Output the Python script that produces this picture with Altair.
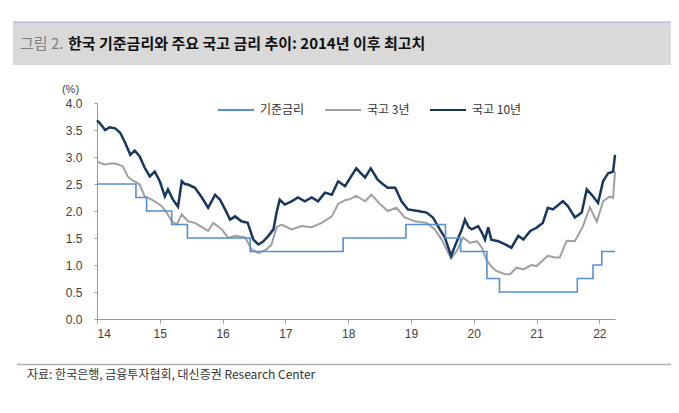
import altair as alt
import pandas as pd

# ---- data (decimal years) ----
base_t = [2014.00, 2014.62, 2014.79, 2015.19, 2015.44, 2016.44, 2017.92, 2018.92,
          2019.55, 2019.79, 2020.21, 2020.41, 2021.65, 2021.90, 2022.04, 2022.25]
base_v = [2.50, 2.25, 2.00, 1.75, 1.50, 1.25, 1.50, 1.75,
          1.50, 1.25, 0.75, 0.50, 0.75, 1.00, 1.25, 1.25]

y3_t = [2014.00, 2014.07, 2014.13, 2014.21, 2014.29, 2014.41, 2014.49, 2014.55, 2014.60, 2014.68,
        2014.76, 2014.84, 2014.92, 2015.03, 2015.11, 2015.19, 2015.27, 2015.35, 2015.45, 2015.56,
        2015.67, 2015.77, 2015.85, 2015.99, 2016.09, 2016.20, 2016.36, 2016.46, 2016.57, 2016.70,
        2016.78, 2016.86, 2016.94, 2017.10, 2017.26, 2017.42, 2017.58, 2017.74, 2017.84, 2017.95,
        2018.03, 2018.13, 2018.27, 2018.37, 2018.50, 2018.63, 2018.77, 2018.90, 2019.06, 2019.25,
        2019.38, 2019.49, 2019.64, 2019.73, 2019.83, 2019.94, 2020.05, 2020.13, 2020.20, 2020.28,
        2020.36, 2020.50, 2020.58, 2020.68, 2020.79, 2020.92, 2021.00, 2021.18, 2021.29, 2021.37,
        2021.48, 2021.61, 2021.74, 2021.85, 2021.96, 2022.06, 2022.17, 2022.22, 2022.25]
y3_v = [2.92, 2.88, 2.86, 2.88, 2.88, 2.83, 2.64, 2.58, 2.55, 2.49,
        2.27, 2.23, 2.18, 2.09, 1.97, 1.81, 1.75, 1.94, 1.81, 1.78,
        1.70, 1.63, 1.78, 1.66, 1.50, 1.54, 1.51, 1.29, 1.22, 1.29,
        1.38, 1.70, 1.75, 1.66, 1.72, 1.70, 1.78, 1.90, 2.13, 2.20,
        2.22, 2.28, 2.18, 2.30, 2.14, 2.00, 2.06, 1.88, 1.81, 1.78,
        1.66, 1.47, 1.12, 1.26, 1.51, 1.41, 1.44, 1.32, 1.10, 0.97,
        0.89, 0.83, 0.83, 0.95, 0.92, 1.00, 0.98, 1.17, 1.14, 1.14,
        1.45, 1.44, 1.72, 2.07, 1.80, 2.18, 2.27, 2.24, 2.73]

y10_t = [2014.00, 2014.05, 2014.13, 2014.20, 2014.29, 2014.37, 2014.45, 2014.53, 2014.60, 2014.68,
         2014.76, 2014.84, 2014.92, 2015.00, 2015.08, 2015.13, 2015.21, 2015.29, 2015.35, 2015.40,
         2015.45, 2015.56, 2015.67, 2015.77, 2015.88, 2015.96, 2016.04, 2016.12, 2016.20, 2016.30,
         2016.40, 2016.49, 2016.57, 2016.65, 2016.73, 2016.81, 2016.86, 2016.91, 2016.99, 2017.10,
         2017.20, 2017.31, 2017.42, 2017.52, 2017.63, 2017.74, 2017.84, 2017.95, 2018.03, 2018.13,
         2018.20, 2018.27, 2018.36, 2018.47, 2018.55, 2018.63, 2018.75, 2018.85, 2018.95, 2019.11,
         2019.25, 2019.35, 2019.46, 2019.54, 2019.64, 2019.70, 2019.81, 2019.86, 2019.92, 2019.97,
         2020.07, 2020.13, 2020.18, 2020.23, 2020.28, 2020.39, 2020.50, 2020.60, 2020.71, 2020.79,
         2020.90, 2021.00, 2021.10, 2021.18, 2021.26, 2021.42, 2021.50, 2021.61, 2021.72, 2021.80,
         2021.88, 2021.98, 2022.06, 2022.14, 2022.22, 2022.25]
y10_v = [3.68, 3.62, 3.50, 3.55, 3.53, 3.45, 3.26, 3.04, 3.12, 3.01,
         2.80, 2.64, 2.73, 2.55, 2.27, 2.40, 2.21, 2.08, 2.55, 2.50,
         2.49, 2.43, 2.25, 2.06, 2.30, 2.21, 2.03, 1.84, 1.90, 1.81,
         1.78, 1.47, 1.38, 1.44, 1.54, 1.66, 1.97, 2.21, 2.12, 2.18,
         2.25, 2.18, 2.25, 2.18, 2.34, 2.30, 2.55, 2.46, 2.61, 2.79,
         2.70, 2.62, 2.79, 2.58, 2.50, 2.43, 2.43, 2.18, 2.03, 2.00,
         1.97, 1.88, 1.66, 1.51, 1.17, 1.35, 1.66, 1.84, 1.70, 1.66,
         1.72, 1.60, 1.47, 1.70, 1.47, 1.44, 1.38, 1.32, 1.54, 1.47,
         1.63, 1.69, 1.78, 2.06, 2.03, 2.18, 2.09, 1.88, 1.97, 2.40,
         2.30, 2.15, 2.55, 2.70, 2.73, 3.04]

series_names = ["기준금리", "국고 3년", "국고 10년"]
series_colors = ["#558ed5", "#a0a0a0", "#17375e"]

title_prefix = "그림 2."
title_main = "한국 기준금리와 주요 국고 금리 추이: 2014년 이후 최고치"
source_text = "자료: 한국은행, 금융투자협회, 대신증권 Research Center"

x_ticks = [2014, 2015, 2016, 2017, 2018, 2019, 2020, 2021, 2022]
y_ticks = [0.0, 0.5, 1.0, 1.5, 2.0, 2.5, 3.0, 3.5, 4.0]

df_base = pd.DataFrame({"t": base_t, "v": base_v, "series": series_names[0]})
df_3 = pd.DataFrame({"t": y3_t, "v": y3_v, "series": series_names[1]})
df_10 = pd.DataFrame({"t": y10_t, "v": y10_v, "series": series_names[2]})
one = pd.DataFrame({"a": [0]})

KR = "Noto Sans CJK KR"
LAT = "Liberation Sans"

x_enc = alt.X("t:Q", scale=alt.Scale(domain=[2014, 2022.25], nice=False, zero=False),
              axis=alt.Axis(values=x_ticks, labelExpr="datum.value - 2000", grid=False,
                            domain=True, domainColor="#9a9a9a", tickColor="#9a9a9a",
                            tickSize=4, labelPadding=5, labelFont=LAT, labelFontSize=12,
                            labelColor="#404040", title=None))
y_enc = alt.Y("v:Q", scale=alt.Scale(domain=[0, 4], nice=False),
              axis=alt.Axis(values=y_ticks, format=".1f", grid=False, domainColor="#9a9a9a",
                            tickColor="#9a9a9a", tickSize=3, labelPadding=12, labelFont=LAT,
                            labelFontSize=12, labelColor="#404040", title="(%)",
                            titleAngle=0, titleX=-27, titleY=-14, titleAlign="center",
                            titleBaseline="middle",
                            titleFont=LAT, titleFontSize=11, titleFontWeight="normal",
                            titleColor="#404040"))
stroke_enc = alt.Stroke("series:N",
                        scale=alt.Scale(domain=series_names, range=series_colors),
                        sort=series_names,
                        legend=alt.Legend(title=None, orient="none", direction="horizontal",
                                          legendX=120, legendY=-12, symbolType="stroke",
                                          symbolSize=1296, symbolStrokeWidth=2,
                                          labelFont=KR, labelFontSize=12, labelColor="#333333",
                                          labelOffset=5, columnPadding=16))

line3 = alt.Chart(df_3).mark_line(strokeWidth=2).encode(x=x_enc, y=y_enc, stroke=stroke_enc)
line10 = alt.Chart(df_10).mark_line(strokeWidth=2.5).encode(x=x_enc, y=y_enc, stroke=stroke_enc)
lineb = alt.Chart(df_base).mark_line(strokeWidth=1.6, interpolate="step-after").encode(
    x=x_enc, y=y_enc, stroke=stroke_enc)

header_box = alt.Chart(one).mark_rect(color="#d9d9d9").encode(
    x=alt.value(-84), x2=alt.value(580), y=alt.value(-81), y2=alt.value(-38))
header_line = alt.Chart(one).mark_rule(color="#8eb4e3", strokeWidth=1.2).encode(
    x=alt.value(-84), x2=alt.value(580), y=alt.value(-81))
t_prefix = alt.Chart(one).mark_text(text=title_prefix, align="left", baseline="middle",
                                    font=KR, fontSize=15, color="#7f7f7f").encode(
    x=alt.value(-77), y=alt.value(-59))
t_main = alt.Chart(one).mark_text(text=title_main, align="left", baseline="middle",
                                  font=KR, fontSize=15, fontWeight="bold", color="#111111").encode(
    x=alt.value(-29), y=alt.value(-59))
footer_line = alt.Chart(one).mark_rule(color="#b0b0b0", strokeWidth=1.5).encode(
    x=alt.value(-80), x2=alt.value(580), y=alt.value(261.5))
t_source = alt.Chart(one).mark_text(text=source_text, align="left", baseline="middle",
                                    font=KR, fontSize=12, color="#333333").encode(
    x=alt.value(-70), y=alt.value(272))

chart = alt.layer(header_box, header_line, t_prefix, t_main, footer_line, t_source,
                  line3, line10, lineb).properties(
    width=518, height=216,
    autosize=alt.AutoSizeParams(type="none"),
    padding={"left": 89, "top": 95, "right": 56, "bottom": 86},
).configure_view(stroke=None)

chart.save("out.html", embed_options={"renderer": "svg", "actions": False})
